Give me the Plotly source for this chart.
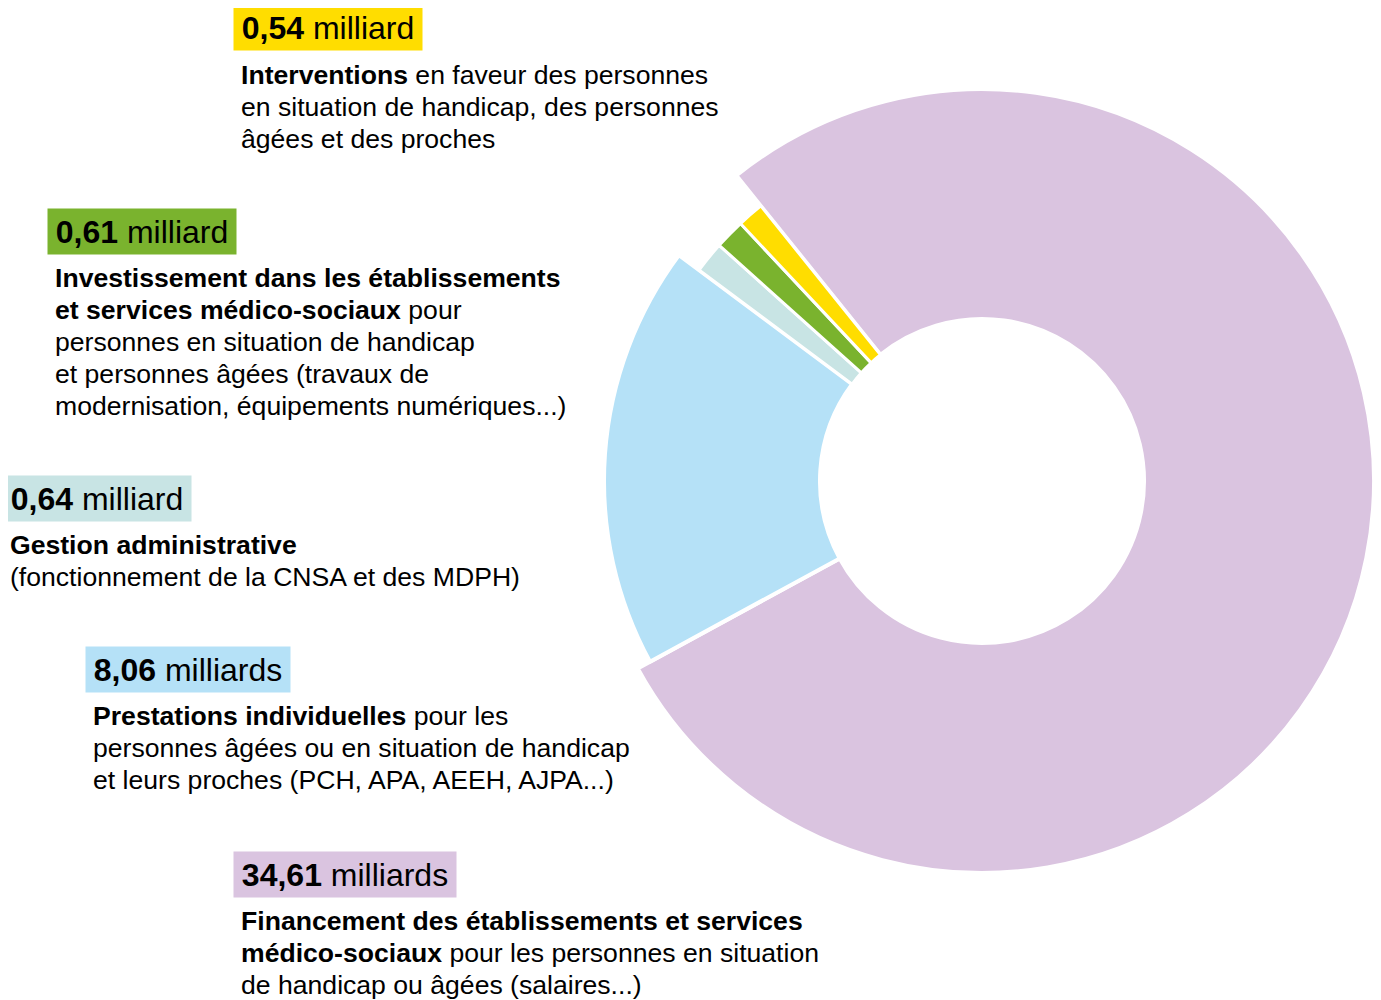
import plotly.graph_objects as go

# ---- data ----
categories = [
    "Financement des établissements et services médico-sociaux",
    "Prestations individuelles",
    "Gestion administrative",
    "Investissement",
    "Interventions",
]
values = [34.61, 8.06, 0.64, 0.61, 0.54]
units = ["milliards", "milliards", "milliard", "milliard", "milliard"]
colors = ["#dac4e0", "#b5e1f7", "#c8e4e4", "#7ab32e", "#ffdd00"]
descriptions = [
    ["<b>Financement des établissements et services</b>",
     "<b>médico-sociaux</b> pour les personnes en situation",
     "de handicap ou âgées (salaires...)"],
    ["<b>Prestations individuelles</b> pour les",
     "personnes âgées ou en situation de handicap",
     "et leurs proches (PCH, APA, AEEH, AJPA...)"],
    ["<b>Gestion administrative</b>",
     "(fonctionnement de la CNSA et des MDPH)"],
    ["<b>Investissement dans les établissements</b>",
     "<b>et services médico-sociaux</b> pour",
     "personnes en situation de handicap",
     "et personnes âgées (travaux de",
     "modernisation, équipements numériques...)"],
    ["<b>Interventions</b> en faveur des personnes",
     "en situation de handicap, des personnes",
     "âgées et des proches"],
]

# ---- layout / style ----
W, H = 1381, 1000
OFF = 8  # page margin of the html body
CX, CY = 982 - OFF, 481 - OFF
R_IN = 162
ring_radius = [392, 378, 353, 353, 353]   # outer radius per slice (px)
ring_line = {392: 4, 378: 4, 353: 3}
FONT = "Liberation Sans, Arial, Helvetica, sans-serif"

# label positions (page px): box left, box center y, box width, text left, first line center y
label_pos = [
    (233, 874.5, 222, 239, 921),
    (85, 669.5, 204, 91, 716),
    (2, 498.5, 188, 8, 545),
    (47, 231.5, 188, 53, 278),
    (233, 27.5, 188, 239, 75),
]
BOX_H = 45
PAD = 4
LINE_H = 32

def px_x(p):
    return (p - OFF) / W

def px_y(p):
    return 1 - (p - OFF) / H

fig = go.Figure()
for R in sorted(set(ring_radius), reverse=True):
    cols = [c if r == R else "rgba(0,0,0,0)" for c, r in zip(colors, ring_radius)]
    lcols = ["white" if r == R else "rgba(0,0,0,0)" for r in ring_radius]
    fig.add_trace(go.Pie(
        labels=categories, values=values, sort=False, direction="clockwise",
        rotation=-38.8, hole=R_IN / R,
        marker=dict(colors=cols, line=dict(color=lcols, width=ring_line[R])),
        textinfo="none", hoverinfo="skip", showlegend=False,
        domain=dict(x=[(CX - R) / W, (CX + R) / W],
                    y=[(H - CY - R) / H, (H - CY + R) / H]),
    ))

annotations = []
for v, u, c, desc, (bx, by, bw, tx, ty) in zip(values, units, colors, descriptions, label_pos):
    annotations.append(dict(
        text=f"<b>{v:.2f}</b> {u}".replace(".", ","),
        x=px_x(bx), y=px_y(by), xref="paper", yref="paper",
        xanchor="left", yanchor="middle", showarrow=False,
        bgcolor=c, borderpad=PAD, width=bw - 2 * PAD, height=BOX_H - 2 * PAD,
        align="center", valign="middle",
        font=dict(family=FONT, size=32, color="black"),
    ))
    for i, line in enumerate(desc):
        annotations.append(dict(
            text=line, x=px_x(tx), y=px_y(ty + i * LINE_H),
            xref="paper", yref="paper", xanchor="left", yanchor="middle",
            showarrow=False, align="left",
            font=dict(family=FONT, size=26.6, color="black"),
        ))

fig.update_layout(
    width=W, height=H, margin=dict(l=0, r=0, t=0, b=0),
    paper_bgcolor="white", plot_bgcolor="white",
    showlegend=False, annotations=annotations,
)
fig.write_html("out.html")
